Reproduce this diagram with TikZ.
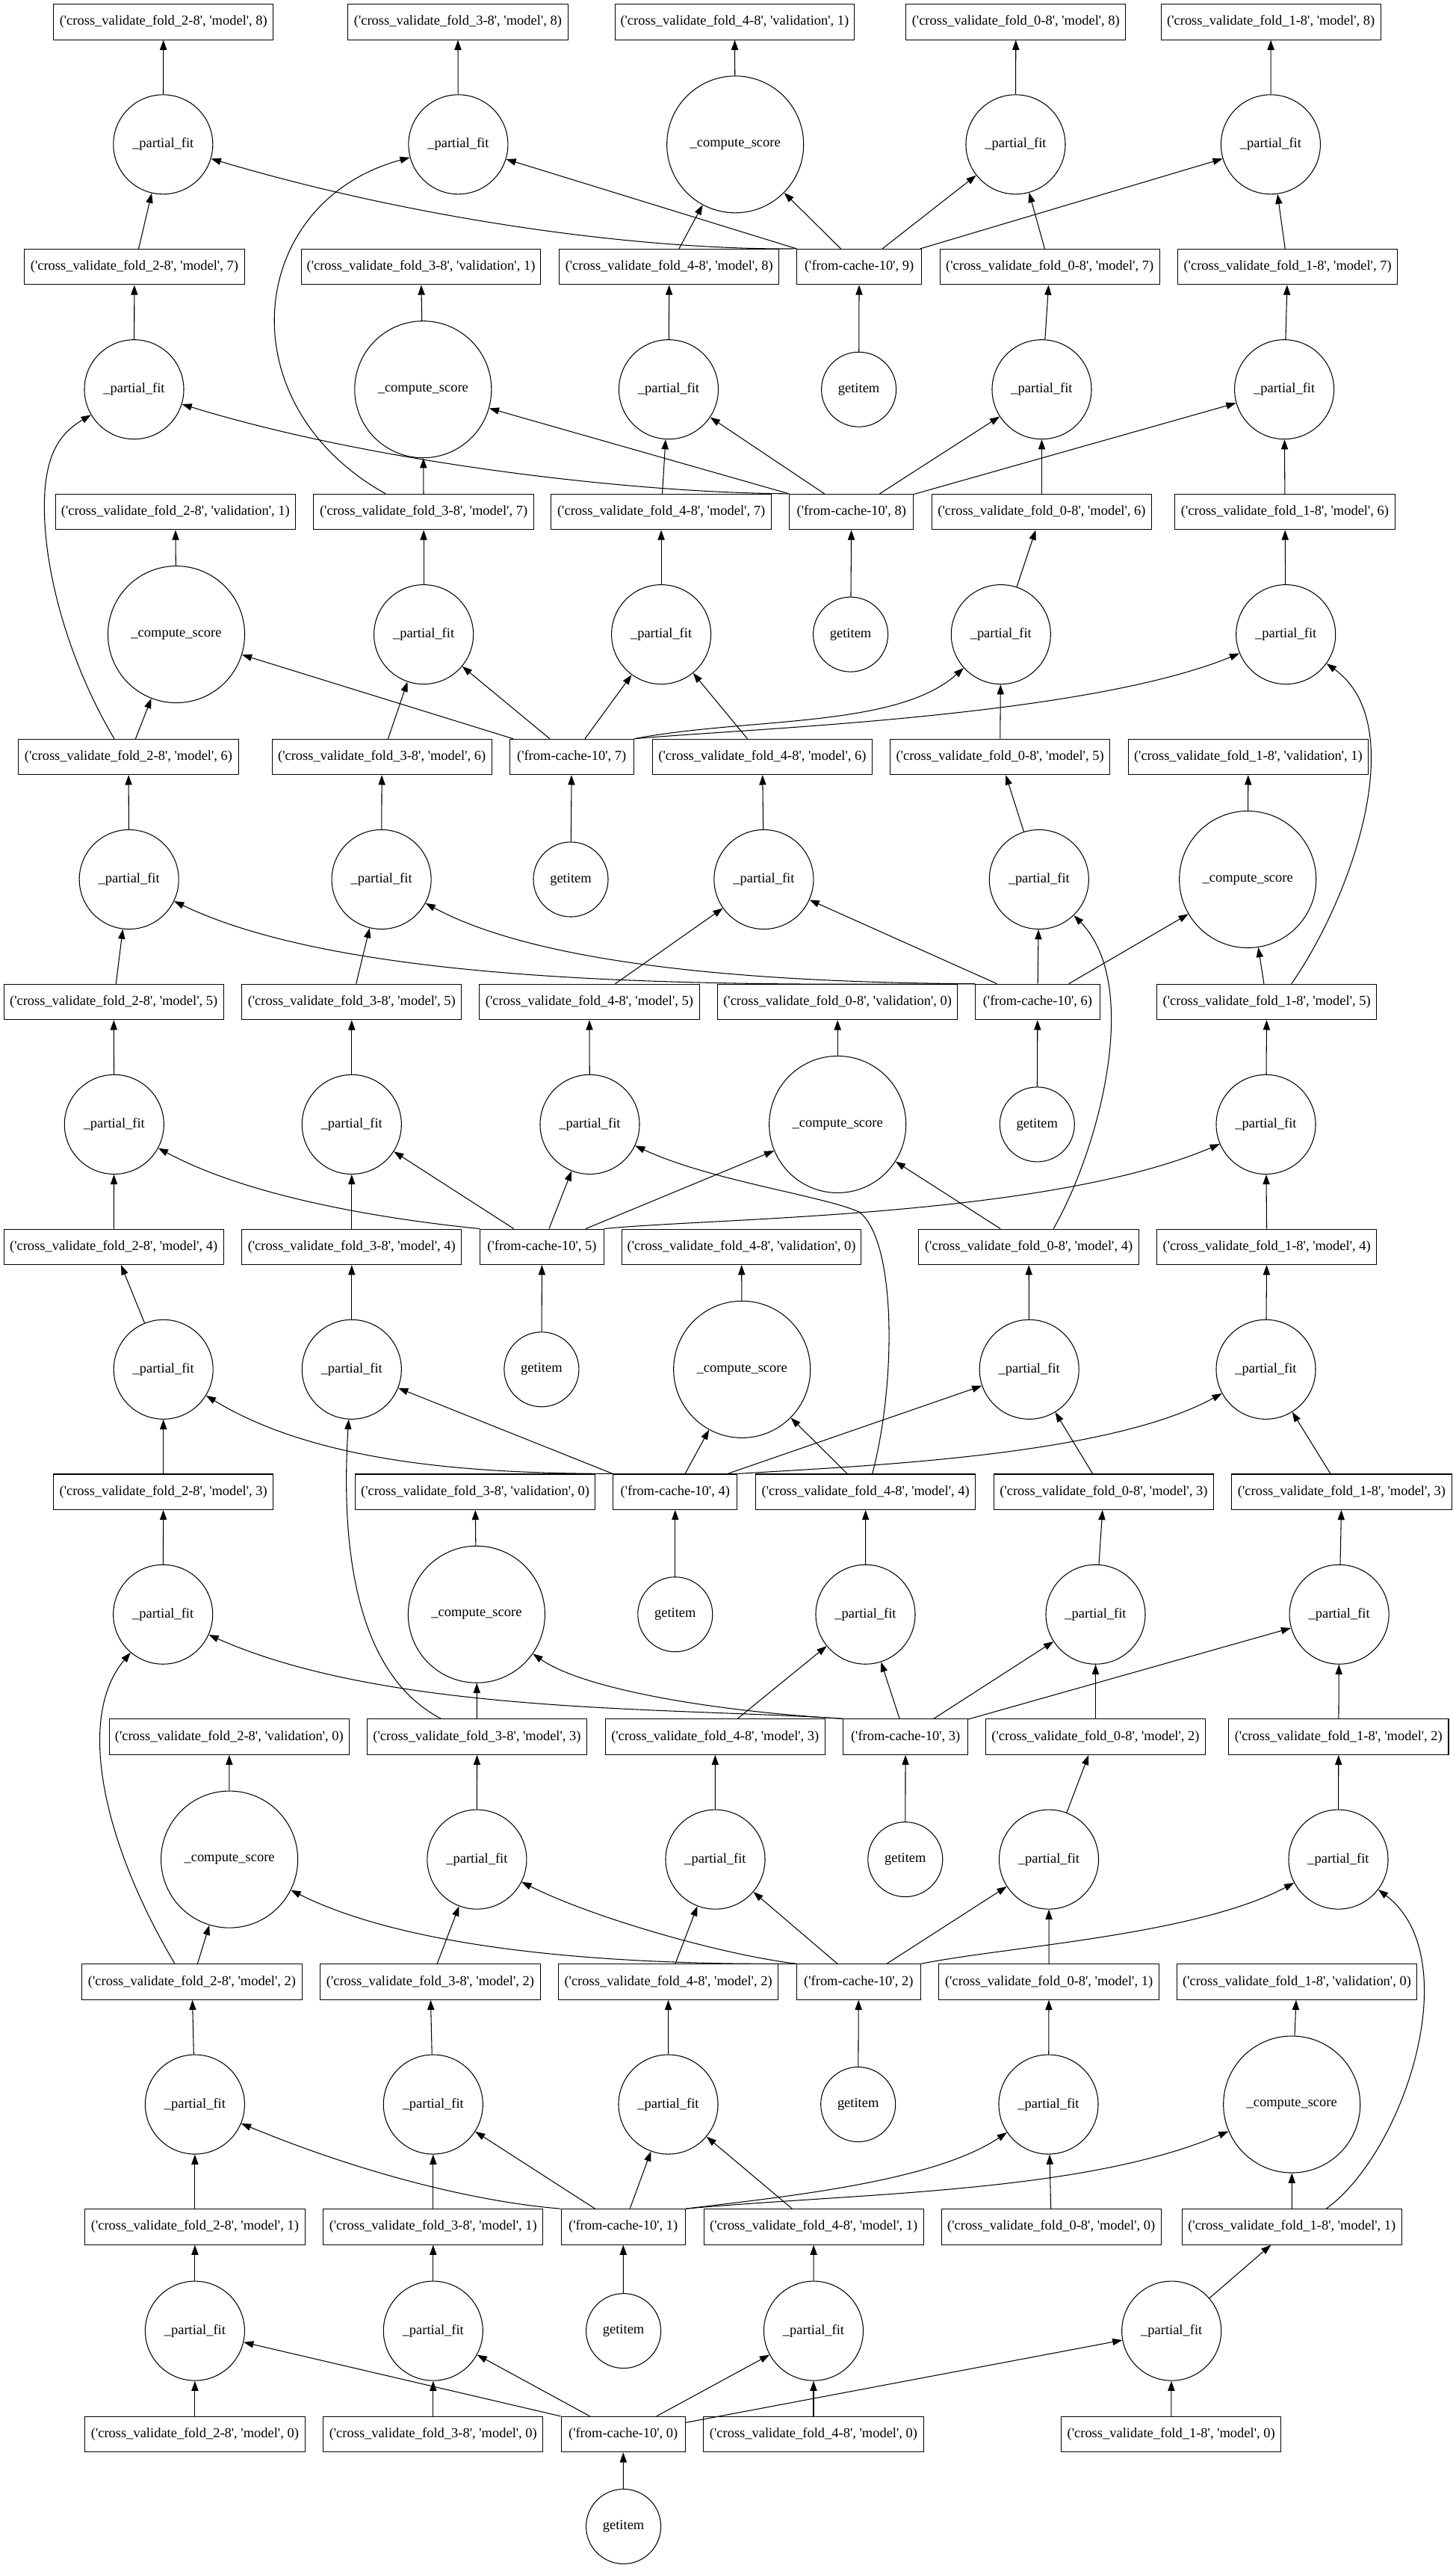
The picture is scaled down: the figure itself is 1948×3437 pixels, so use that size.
\documentclass[tikz,border=0pt]{standalone}
\usepackage{fontspec}
\newfontfamily\gvfont{Liberation Serif}
\usetikzlibrary{arrows.meta,calc}
\newcommand{\gvq}{\textquotesingle}
\newcommand{\gvM}[2]{(\gvq cross\_validate\_fold\_#1-8\gvq, \gvq model\gvq, #2)}
\newcommand{\gvV}[2]{(\gvq cross\_validate\_fold\_#1-8\gvq, \gvq validation\gvq, #2)}
\newcommand{\gvC}[1]{(\gvq from-cache-10\gvq, #1)}
\tikzset{
  nd/.style={draw, line width=0.8pt, inner sep=0pt, font=\gvfont\fontsize{14}{16.8}\selectfont},
  box/.style={nd, rectangle, minimum height=36pt},
  mbox/.style={box, minimum width=223pt},
  vbox/.style={box, minimum width=243pt},
  cbox/.style={box, minimum width=126pt},
  pf/.style={nd, circle, minimum size=100.8pt},
  cs/.style={nd, circle, minimum size=138.7pt},
  gi/.style={nd, circle, minimum size=75.8pt},
  edg/.style={draw, line width=0.8pt, -{Triangle[length=10pt,width=7pt]}},
}
\begin{document}
\begin{tikzpicture}[x=0.7577pt,y=-0.7577pt]
\fill[white] (0,0) rectangle (1948,3437);
\useasboundingbox (0,0) rectangle (1948,3437);
% rank 0
\node[mbox] (m28) at (218.8,29.3) {\gvM{2}{8}};
\node[mbox] (m38) at (612.9,29.3) {\gvM{3}{8}};
\node[vbox] (v41) at (983.4,29.3) {\gvV{4}{1}};
\node[mbox] (m08) at (1359.8,29.3) {\gvM{0}{8}};
\node[mbox] (m18) at (1701.2,29.3) {\gvM{1}{8}};
% rank 1
\node[pf] (p27) at (218.3,193.3) {\_partial\_fit};
\node[pf] (p37) at (613.4,193.3) {\_partial\_fit};
\node[cs] (s41) at (984.2,193.3) {\_compute\_score};
\node[pf] (p07) at (1359.5,193.3) {\_partial\_fit};
\node[pf] (p17) at (1700.9,193.3) {\_partial\_fit};
% rank 2
\node[mbox] (m27) at (179.9,357.2) {\gvM{2}{7}};
\node[vbox] (v31) at (563.5,357.2) {\gvV{3}{1}};
\node[mbox] (m48) at (895.8,357.2) {\gvM{4}{8}};
\node[cbox] (c9) at (1150.1,357.2) {\gvC{9}};
\node[mbox] (m07) at (1405.2,357.2) {\gvM{0}{7}};
\node[mbox] (m17) at (1723.6,357.2) {\gvM{1}{7}};
% rank 3
\node[pf] (p26) at (179.5,521.2) {\_partial\_fit};
\node[cs] (s31) at (566.3,521.2) {\_compute\_score};
\node[pf] (p47) at (895,521.2) {\_partial\_fit};
\node[gi] (g9) at (1149.6,521.2) {getitem};
\node[pf] (p06) at (1394.5,521.2) {\_partial\_fit};
\node[pf] (p16) at (1719.1,521.2) {\_partial\_fit};
% rank 4
\node[vbox] (v21) at (234.8,685.1) {\gvV{2}{1}};
\node[mbox] (m37) at (567.1,685.1) {\gvM{3}{7}};
\node[mbox] (m47) at (885.1,685.1) {\gvM{4}{7}};
\node[cbox] (c8) at (1139.8,685.1) {\gvC{8}};
\node[mbox] (m06) at (1394.5,685.1) {\gvM{0}{6}};
\node[mbox] (m16) at (1720,685.1) {\gvM{1}{6}};
% rank 5
\node[cs] (s21) at (236,849.1) {\_compute\_score};
\node[pf] (p36) at (567.1,849.1) {\_partial\_fit};
\node[pf] (p46) at (885.1,849.1) {\_partial\_fit};
\node[gi] (g8) at (1138.6,849.1) {getitem};
\node[pf] (p05) at (1339.8,849.1) {\_partial\_fit};
\node[pf] (p15) at (1721.2,849.1) {\_partial\_fit};
% rank 6
\node[mbox] (m26) at (172,1013) {\gvM{2}{6}};
\node[mbox] (m36) at (511.2,1013) {\gvM{3}{6}};
\node[cbox] (c7) at (765.2,1013) {\gvC{7}};
\node[mbox] (m46) at (1020.5,1013) {\gvM{4}{6}};
\node[mbox] (m05) at (1338.6,1013) {\gvM{0}{5}};
\node[vbox] (v11) at (1670.9,1013) {\gvV{1}{1}};
% rank 7
\node[pf] (p25) at (172.7,1177) {\_partial\_fit};
\node[pf] (p35) at (510.6,1177) {\_partial\_fit};
\node[gi] (g7) at (764,1177) {getitem};
\node[pf] (p45) at (1022.4,1177) {\_partial\_fit};
\node[pf] (p04) at (1390.8,1177) {\_partial\_fit};
\node[cs] (s11) at (1670.2,1177) {\_compute\_score};
% rank 8
\node[mbox] (m25) at (152.2,1341) {\gvM{2}{5}};
\node[mbox] (m35) at (470.8,1341) {\gvM{3}{5}};
\node[mbox] (m45) at (788.9,1341) {\gvM{4}{5}};
\node[vbox] (v00) at (1121.2,1341) {\gvV{0}{0}};
\node[cbox] (c6) at (1388.9,1341) {\gvC{6}};
\node[mbox] (m15) at (1695.7,1341) {\gvM{1}{5}};
% rank 9
\node[pf] (p24) at (152.8,1504.9) {\_partial\_fit};
\node[pf] (p34) at (470.8,1504.9) {\_partial\_fit};
\node[pf] (p44) at (789.5,1504.9) {\_partial\_fit};
\node[cs] (s00) at (1121.2,1504.9) {\_compute\_score};
\node[gi] (g6) at (1388.3,1504.9) {getitem};
\node[pf] (p14) at (1694.5,1504.9) {\_partial\_fit};
% rank 10
\node[mbox] (m24) at (152.2,1668.8) {\gvM{2}{4}};
\node[mbox] (m34) at (470.8,1668.8) {\gvM{3}{4}};
\node[cbox] (c5) at (725.5,1668.8) {\gvC{5}};
\node[vbox] (v40) at (992.6,1668.8) {\gvV{4}{0}};
\node[mbox] (m04) at (1377.1,1668.8) {\gvM{0}{4}};
\node[mbox] (m14) at (1695.7,1668.8) {\gvM{1}{4}};
% rank 11
\node[pf] (p23) at (218.7,1832.8) {\_partial\_fit};
\node[pf] (p33) at (470.8,1832.8) {\_partial\_fit};
\node[gi] (g5) at (724.9,1832.8) {getitem};
\node[cs] (s40) at (993.2,1832.8) {\_compute\_score};
\node[pf] (p03) at (1377.7,1832.8) {\_partial\_fit};
\node[pf] (p13) at (1694.5,1832.8) {\_partial\_fit};
% rank 12
\node[mbox] (m23) at (218.7,1996.7) {\gvM{2}{3}};
\node[vbox] (v30) at (636,1996.7) {\gvV{3}{0}};
\node[cbox] (c4) at (903.8,1996.7) {\gvC{4}};
\node[mbox] (m44) at (1158.7,1996.7) {\gvM{4}{4}};
\node[mbox] (m03) at (1477.4,1996.7) {\gvM{0}{3}};
\node[mbox] (m13) at (1796,1996.7) {\gvM{1}{3}};
% rank 13
\node[pf] (p22) at (218.2,2160.7) {\_partial\_fit};
\node[cs] (s30) at (637.9,2160.7) {\_compute\_score};
\node[gi] (g4) at (903.8,2160.7) {getitem};
\node[pf] (p43) at (1158.5,2160.7) {\_partial\_fit};
\node[pf] (p02) at (1466.5,2160.7) {\_partial\_fit};
\node[pf] (p12) at (1792.6,2160.7) {\_partial\_fit};
% rank 14
\node[vbox] (v20) at (306.8,2324.6) {\gvV{2}{0}};
\node[mbox] (m33) at (638.5,2324.6) {\gvM{3}{3}};
\node[mbox] (m43) at (957.3,2324.6) {\gvM{4}{3}};
\node[cbox] (c3) at (1212.1,2324.6) {\gvC{3}};
\node[mbox] (m02) at (1466.5,2324.6) {\gvM{0}{2}};
\node[mbox] (m12) at (1791.8,2324.6) {\gvM{1}{2}};
% rank 15
\node[cs] (s20) at (307.1,2488.6) {\_compute\_score};
\node[pf] (p32) at (638.4,2488.6) {\_partial\_fit};
\node[pf] (p42) at (957.5,2488.6) {\_partial\_fit};
\node[gi] (g3) at (1211.8,2488.6) {getitem};
\node[pf] (p01) at (1404,2488.6) {\_partial\_fit};
\node[pf] (p11) at (1791.5,2488.6) {\_partial\_fit};
% rank 16
\node[mbox] (m22) at (257,2652.5) {\gvM{2}{2}};
\node[mbox] (m32) at (575.9,2652.5) {\gvM{3}{2}};
\node[mbox] (m42) at (894.6,2652.5) {\gvM{4}{2}};
\node[cbox] (c2) at (1149.3,2652.5) {\gvC{2}};
\node[mbox] (m01) at (1404.1,2652.5) {\gvM{0}{1}};
\node[vbox] (v10) at (1736,2652.5) {\gvV{1}{0}};
% rank 17
\node[pf] (p21) at (260.9,2816.5) {\_partial\_fit};
\node[pf] (p31) at (579.8,2816.5) {\_partial\_fit};
\node[pf] (p41) at (894.5,2816.5) {\_partial\_fit};
\node[gi] (g2) at (1148.7,2816.5) {getitem};
\node[pf] (p00) at (1403.5,2816.5) {\_partial\_fit};
\node[cs] (s10) at (1729.2,2816.5) {\_compute\_score};
% rank 18
\node[mbox] (m21) at (260.9,2980.4) {\gvM{2}{1}};
\node[mbox] (m31) at (579.8,2980.4) {\gvM{3}{1}};
\node[cbox] (c1) at (834.2,2980.4) {\gvC{1}};
\node[mbox] (m41) at (1089.2,2980.4) {\gvM{4}{1}};
\node[mbox] (m00) at (1407.2,2980.4) {\gvM{0}{0}};
\node[mbox] (m11) at (1729.3,2980.4) {\gvM{1}{1}};
% rank 19
\node[pf] (p20) at (260.9,3119.6) {\_partial\_fit};
\node[pf] (p30) at (579.8,3119.6) {\_partial\_fit};
\node[gi] (g1) at (834.6,3119.6) {getitem};
\node[pf] (p40) at (1089,3119.6) {\_partial\_fit};
\node[pf] (p10) at (1568.2,3119.6) {\_partial\_fit};
% rank 20
\node[mbox] (m20) at (260.9,3258.1) {\gvM{2}{0}};
\node[mbox] (m30) at (579.8,3258.1) {\gvM{3}{0}};
\node[cbox] (c0) at (834.2,3258.1) {\gvC{0}};
\node[mbox] (m40) at (1089,3258.1) {\gvM{4}{0}};
\node[mbox] (m10) at (1567.7,3258.1) {\gvM{1}{0}};
% rank 21
\node[gi] (g0) at (834.6,3381.4) {getitem};

% straight edges
\foreach \a/\b in {g0/c0,g1/c1,g2/c2,g3/c3,g4/c4,g5/c5,g6/c6,g7/c7,g8/c8,g9/c9,
 m20/p20,p20/m21,m21/p21,p21/m22,m22/s20,s20/v20,p22/m23,m23/p23,p23/m24,m24/p24,p24/m25,m25/p25,p25/m26,m26/s21,s21/v21,p26/m27,m27/p27,p27/m28,
 m30/p30,p30/m31,m31/p31,p31/m32,m32/p32,p32/m33,m33/s30,s30/v30,p33/m34,m34/p34,p34/m35,m35/p35,p35/m36,m36/p36,p36/m37,m37/s31,s31/v31,p37/m38,
 m40/p40,p40/m41,m41/p41,p41/m42,m42/p42,p42/m43,m43/p43,p43/m44,m44/s40,s40/v40,p44/m45,m45/p45,p45/m46,m46/p46,p46/m47,m47/p47,p47/m48,m48/s41,s41/v41,
 m00/p00,p00/m01,m01/p01,p01/m02,m02/p02,p02/m03,m03/p03,p03/m04,m04/s00,s00/v00,p04/m05,m05/p05,p05/m06,m06/p06,p06/m07,m07/p07,p07/m08,
 m10/p10,p10/m11,m11/s10,s10/v10,p11/m12,m12/p12,p12/m13,m13/p13,p13/m14,m14/p14,p14/m15,m15/s11,s11/v11,p15/m16,m16/p16,p16/m17,m17/p17,p17/m18,
 c9/s41,c9/p07,c9/p17,c8/p47,c8/p06,c8/p16,c7/s21,c7/p36,c7/p46,c6/p45,c6/p04,c6/s11,c5/p34,c5/p44,c5/s00,c4/s40,c4/p03,c3/p43,c3/p02,c3/p12,c2/p42,c2/p01,c1/p31,c1/p41,c0/p30,c0/p40,c0/p10,
 c9.north west/p37,c8.north west/s31,c4.north west/p33,c0.north west/p20}
  \draw[edg] (\a) -- (\b);

% curved cache edges
\draw[edg] (c9.north west) .. controls (850,335) and (550,292) .. (p27);
\draw[edg] (c8.north west) .. controls (850,660) and (500,620) .. (p26);
\draw[edg] (c7.north east) .. controls (1000,960) and (1200,975) .. (p05);
\draw[edg] (c7.north east) .. controls (1000,975) and (1450,960) .. (p15);
\draw[edg] (c6.north west) .. controls (1000,1318) and (480,1325) .. (p25);
\draw[edg] (c6.north west) .. controls (1000,1315) and (720,1290) .. (p35);
\draw[edg] (c5.north west) .. controls (500,1630) and (330,1600) .. (p24);
\draw[edg] (c5.north east) .. controls (950,1630) and (1400,1630) .. (p14);
\draw[edg] (c4.north west) .. controls (650,1972) and (430,1962) .. (p23);
\draw[edg] (c4.north east) .. controls (1150,1962) and (1480,1950) .. (p13);
\draw[edg] (c3.north west) .. controls (900,2285) and (520,2295) .. (p22);
\draw[edg] (c3.north west) .. controls (950,2290) and (780,2260) .. (s30);
\draw[edg] (c2.north west) .. controls (850,2630) and (560,2615) .. (s20);
\draw[edg] (c2.north west) .. controls (960,2615) and (790,2565) .. (p32);
\draw[edg] (c2.north east) .. controls (1350,2605) and (1600,2590) .. (p11);
\draw[edg] (c1.north west) .. controls (650,2948) and (500,2915) .. (p21);
\draw[edg] (c1.north east) .. controls (1050,2940) and (1250,2920) .. (p00);
\draw[edg] (c1.north east) .. controls (1150,2935) and (1450,2935) .. (s10);

% long model edges
\draw[edg] ($(m22.north)+(-23,0)$) .. controls (140,2470) and (100,2300) .. (p22);
\draw[edg] ($(m26.north)+(-19,0)$) .. controls (100,900) and (65,790) .. (60,700) .. controls (55,610) and (80,580) .. (p26);
\draw[edg] ($(m33.north)+(-48,0)$) .. controls (465,2235) and (458,2040) .. (p33);
\draw[edg] ($(m37.north)+(-51,0)$) .. controls (300,540) and (330,270) .. (p37);
\draw[edg] ($(m44.north)+(9,0)$) .. controls (1200,1850) and (1200,1660) .. (1150,1622) .. controls (1100,1600) and (950,1580) .. (p44);
\draw[edg] ($(m04.north)+(33,0)$) .. controls (1470,1540) and (1530,1320) .. (p04);
\draw[edg] ($(m11.north)+(46,0)$) .. controls (1880,2880) and (1965,2620) .. (p11);
\draw[edg] ($(m15.north)+(33,0)$) .. controls (1810,1200) and (1890,970) .. (p15);
\end{tikzpicture}
\end{document}
